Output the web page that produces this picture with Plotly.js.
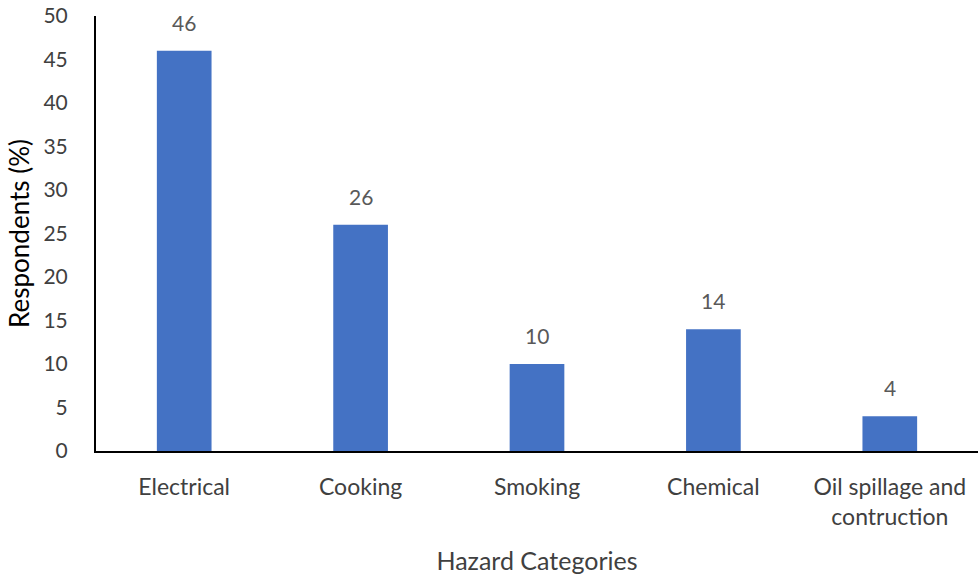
<!DOCTYPE html>
<html>
<head>
<meta charset="utf-8">
<script src="https://cdn.plot.ly/plotly-3.0.1.min.js"></script>
<style>html,body{margin:0;padding:0;background:#fff;}#chart{width:978px;height:575px;}</style>
</head>
<body>
<div id="chart"></div>
<script>
const categories = ["Electrical", "Cooking", "Smoking", "Chemical", "Oil spillage and<br>contruction"];
const respondents = [46, 26, 10, 14, 4];
const yTicks = [0, 5, 10, 15, 20, 25, 30, 35, 40, 45, 50];

const FONT = "Lato, 'Open Sans', sans-serif";

const trace = {
  type: "bar",
  x: categories,
  y: respondents,
  marker: {color: "#4472C4"},
  hoverinfo: "none"
};

const annotations = categories.map((c, i) => ({
  x: c, y: respondents[i], xref: "x", yref: "y",
  text: String(respondents[i]),
  showarrow: false, yanchor: "bottom", yshift: 14,
  font: {family: FONT, size: 21, color: "#595959"}
}));

const layout = {
  width: 978, height: 575,
  margin: {l: 96, r: 0, t: 16, b: 124},
  paper_bgcolor: "#fff", plot_bgcolor: "#fff",
  bargap: 0.69,
  showlegend: false,
  font: {family: FONT, size: 20, color: "#404040"},
  xaxis: {
    type: "category",
    showline: true, linecolor: "#000", linewidth: 2,
    ticks: "", showgrid: false, zeroline: false,
    tickfont: {family: FONT, size: 23, color: "#404040"},
    ticklabelstandoff: 14,
    title: {text: "Hazard Categories", font: {family: FONT, size: 25, color: "#404040"}, standoff: 26}
  },
  yaxis: {
    range: [0, 50],
    tickvals: yTicks,
    showline: true, linecolor: "#000", linewidth: 2,
    ticks: "", showgrid: false, zeroline: false,
    tickfont: {family: FONT, size: 21, color: "#404040"},
    ticklabelstandoff: 22,
    title: {text: "Respondents (%)", font: {family: FONT, size: 26, color: "#000"}, standoff: 6}
  },
  annotations: annotations
};

Plotly.newPlot("chart", [trace], layout, {displayModeBar: false, staticPlot: true});
</script>
</body>
</html>
